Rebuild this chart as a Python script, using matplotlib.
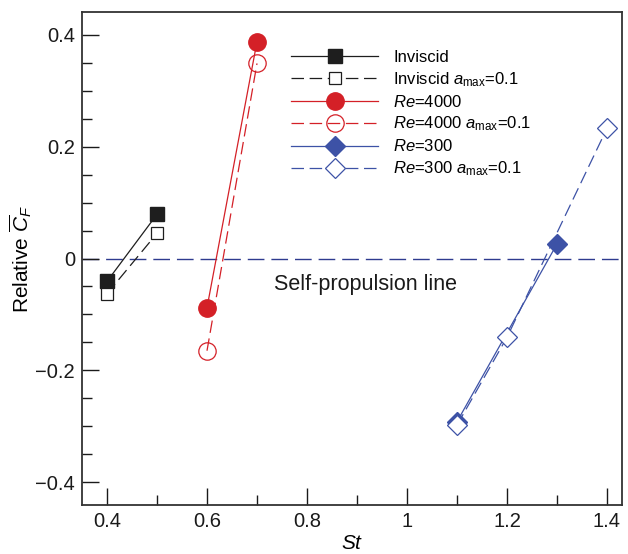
import matplotlib
matplotlib.use("Agg")
import matplotlib.pyplot as plt
from matplotlib.ticker import MultipleLocator, FuncFormatter

plt.rcParams['font.family'] = ['Liberation Sans', 'DejaVu Sans']
plt.rcParams['mathtext.fontset'] = 'custom'
plt.rcParams['mathtext.rm'] = 'Liberation Sans'
plt.rcParams['mathtext.it'] = 'Liberation Sans:italic'
plt.rcParams['mathtext.bf'] = 'Liberation Sans:bold'

# Strouhal numbers and relative mean thrust coefficients
st_inv = [0.4, 0.5]
cf_inv = [-0.041, 0.079]
st_inv_a = [0.4, 0.5]
cf_inv_a = [-0.063, 0.045]

st_re4000 = [0.6, 0.7]
cf_re4000 = [-0.088, 0.388]
st_re4000_a = [0.6, 0.7]
cf_re4000_a = [-0.165, 0.349]

st_re300 = [1.1, 1.3]
cf_re300 = [-0.292, 0.026]
st_re300_a = [1.1, 1.2, 1.4]
cf_re300_a = [-0.298, -0.141, 0.233]

labels = ["Inviscid", r"Inviscid $a_{\rm max}$=0.1",
          r"$Re$=4000", r"$Re$=4000 $a_{\rm max}$=0.1",
          r"$Re$=300", r"$Re$=300 $a_{\rm max}$=0.1"]

black = "#1e1e1e"
red = "#d42027"
blue = "#3d52a6"
navy = "#2e3b8f"

fig = plt.figure(figsize=(6.28, 5.54), dpi=100)
ax = fig.add_axes([82/628, 1-505/554, 540/628, 493/554])

dash = (0, (10, 4.5))
ax.axhline(0, color=navy, lw=1.0, linestyle=(0, (12, 5)), zorder=1)

ax.plot(st_inv, cf_inv, color=black, lw=0.9, marker='s', ms=9.5,
        mfc=black, mec=black, label=labels[0])
ax.plot(st_inv_a, cf_inv_a, color=black, lw=0.9, ls=dash, marker='s', ms=9,
        mfc='white', mec=black, mew=0.9, label=labels[1])
ax.plot(st_re4000, cf_re4000, color=red, lw=0.9, marker='o', ms=12.5,
        mfc=red, mec=red, label=labels[2])
ax.plot(st_re4000_a, cf_re4000_a, color=red, lw=0.9, ls=dash, marker='o', ms=12.5,
        mfc='none', mec=red, mew=0.9, label=labels[3])
ax.plot(st_re300, cf_re300, color=blue, lw=0.9, marker='D', ms=10,
        mfc=blue, mec=blue, label=labels[4])
ax.plot(st_re300_a, cf_re300_a, color=blue, lw=0.9, ls=dash, marker='D', ms=10,
        mfc='white', mec=blue, mew=0.9, label=labels[5])

ax.text(0.916, -0.046, "Self-propulsion line", fontsize=15.5, color="#1a1a1a",
        ha='center', va='center')

ax.set_xlim(0.35, 1.43)
ax.set_ylim(-0.441, 0.441)
ax.xaxis.set_major_locator(MultipleLocator(0.2))
ax.xaxis.set_minor_locator(MultipleLocator(0.1))
ax.yaxis.set_major_locator(MultipleLocator(0.2))
ax.yaxis.set_minor_locator(MultipleLocator(0.05))
fmt = FuncFormatter(lambda v, p: ("%g" % round(v, 3)).replace("-", "\u2212"))
ax.xaxis.set_major_formatter(fmt)
ax.yaxis.set_major_formatter(fmt)
ax.tick_params(which='both', direction='in', top=False, right=False,
               labelsize=14.5, colors="#1a1a1a", width=1.0)
ax.tick_params(axis='y', which='major', length=12, pad=5)
ax.tick_params(axis='x', which='major', length=12, pad=5)
ax.tick_params(which='minor', length=7)
for s in ax.spines.values():
    s.set_linewidth(1.3)
    s.set_color("#333333")

ax.set_xlabel(r"$St$", fontsize=15, labelpad=2)
ax.set_ylabel(r"Relative $\overline{C}_F$", fontsize=15)
ax.yaxis.set_label_coords(-0.088, 0.5)

leg = ax.legend(loc='upper left', bbox_to_anchor=(0.3755, 0.9365), frameon=False,
                fontsize=12, numpoints=1, handlelength=5.2, handletextpad=0.9,
                labelspacing=0.3, borderaxespad=0)

fig.savefig("out.png", dpi=100)
